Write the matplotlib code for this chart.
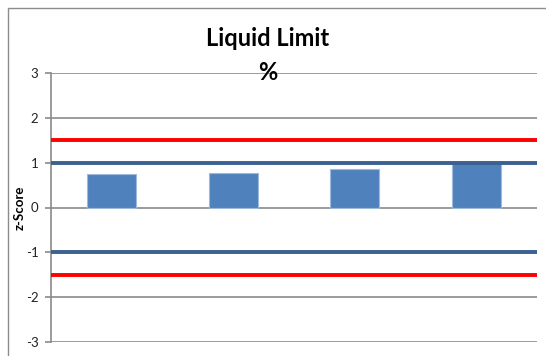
import matplotlib.pyplot as plt
from matplotlib.patches import Rectangle

# z-scores per lab
labs = ['A', 'B', 'C', 'D']
z_scores = [0.74, 0.78, 0.85, 0.99]
warning_limits = [1, -1]
action_limits = [1.5, -1.5]
y_ticks = [-3, -2, -1, 0, 1, 2, 3]

plt.rcParams['font.family'] = ['Lato', 'DejaVu Sans']

fig = plt.figure(figsize=(5.46, 3.56), dpi=100)
ax = fig.add_axes([51 / 546, 1 - 342 / 356, 486 / 546, 269 / 356])

# chart border
fig.patches.append(Rectangle((8 / 546, -0.1), 1.2, 1 - 8 / 356 + 0.1,
                             transform=fig.transFigure, fill=False,
                             edgecolor='#8c8c8c', linewidth=1.0))

ax.bar(range(len(labs)), z_scores, width=0.4, color='#4F81BD',
       edgecolor='#9db9dc', linewidth=0.8, zorder=2)

for y in warning_limits:
    ax.axhline(y, color='#3A6190', linewidth=2.8, zorder=3)
for y in action_limits:
    ax.axhline(y, color='#FF0000', linewidth=2.8, zorder=3)

ax.set_xlim(-0.5, 3.5)
ax.set_ylim(-3, 3)
ax.set_yticks(y_ticks)
ax.set_yticklabels([str(t) for t in y_ticks])
ax.set_xticks([])
ax.grid(axis='y', color='#8a8a8a', linewidth=1.2, zorder=1)
ax.set_axisbelow(True)

for side in ['top', 'right', 'bottom']:
    ax.spines[side].set_visible(False)
ax.spines['left'].set_color('#8a8a8a')
ax.spines['left'].set_linewidth(1.2)
ax.tick_params(axis='y', length=4, width=1.2, color='#8a8a8a',
               labelsize=9.5, pad=5, labelcolor='#222222')

ax.set_ylabel('z-Score', fontsize=9.5, fontweight='bold')
ax.yaxis.set_label_coords(-0.052, 0.5)

fig.text(268 / 546, 1 - 38 / 356, 'Liquid Limit', ha='center', va='center',
         fontsize=17, fontweight='bold')
fig.text(268 / 546, 1 - 72 / 356, '%', ha='center', va='center',
         fontsize=17, fontweight='bold', zorder=5)

fig.savefig('out.png', dpi=100)
